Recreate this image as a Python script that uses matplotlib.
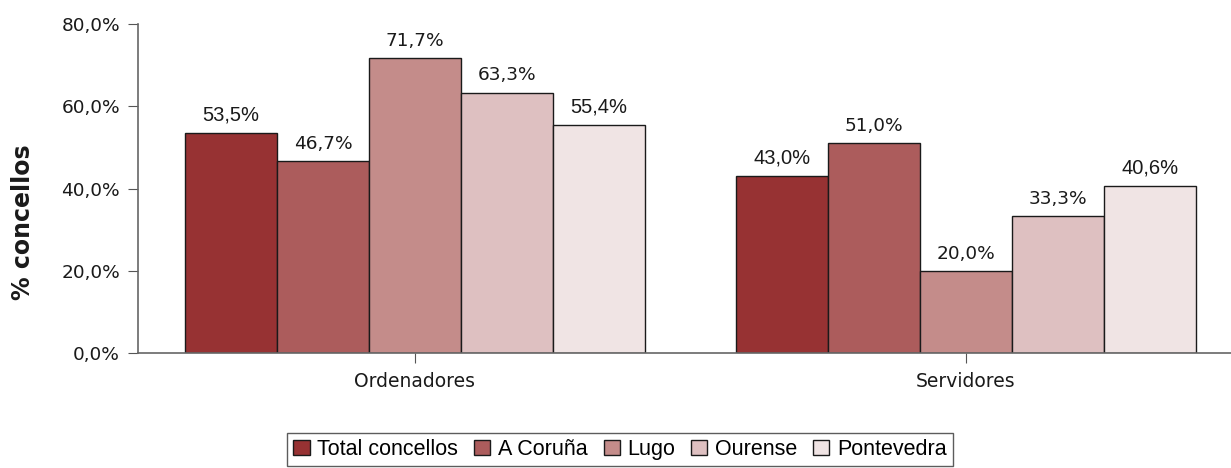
import numpy as np
import matplotlib.pyplot as plt

categorias = ['Ordenadores', 'Servidores']
series = ['Total concellos', 'A Coruña', 'Lugo', 'Ourense', 'Pontevedra']
total = [53.5, 43.0]
coruna = [46.7, 51.0]
lugo = [71.7, 20.0]
ourense = [63.3, 33.3]
pontevedra = [55.4, 40.6]
valores = [total, coruna, lugo, ourense, pontevedra]
cores = ['#973233', '#ac5c5c', '#c48c8a', '#dec0c1', '#f0e4e4']
# some labels in the original are drawn with an Arial-like face
fontes = ['Liberation Sans', 'DejaVu Sans', 'DejaVu Sans', 'DejaVu Sans', 'Liberation Sans']

fig = plt.figure(figsize=(12.31, 4.68), dpi=100)
ax = fig.add_axes([138 / 1231, 1 - 353 / 468, 1 - 138 / 1231, (353 - 24) / 468])

x = np.arange(len(categorias))
w = 0.167
for i, (s, v, c, f) in enumerate(zip(series, valores, cores, fontes)):
    pos = x + (i - 2) * w
    ax.bar(pos, v, w, color=c, edgecolor='#1a1a1a', linewidth=1, label=s)
    for p, val in zip(pos, v):
        ax.text(p, val + 2.0, f'{val:.1f}%'.replace('.', ','), ha='center', va='bottom',
                fontsize=13.3 if f == 'DejaVu Sans' else 14.5, family=f, color='#1a1a1a')

ax.set_xlim(-0.5027, 1.481)
ax.set_ylim(0, 80)
ax.set_yticks([0, 20, 40, 60, 80])
ax.set_yticklabels([f'{t:.1f}%'.replace('.', ',') for t in [0, 20, 40, 60, 80]], fontsize=13.3)
ax.set_xticks(x)
ax.set_xticklabels(categorias, fontsize=13.5)
ax.tick_params(axis='both', direction='out', length=7, color='#555555', labelcolor='#1a1a1a')
ax.tick_params(axis='y', pad=6)
ax.tick_params(axis='x', pad=7)
for s in ['top', 'right']:
    ax.spines[s].set_visible(False)
for s in ['left', 'bottom']:
    ax.spines[s].set_color('#666666')
    ax.spines[s].set_linewidth(1.2)

fig.text(23 / 1231, 1 - 222 / 468, '% concellos', rotation=90, ha='center', va='center',
         fontsize=17, fontweight='bold', color='#1a1a1a')

leg = fig.legend(loc='center', bbox_to_anchor=(620 / 1231, 1 - 449.5 / 468), ncol=5,
                 frameon=True, fancybox=False, edgecolor='#333333',
                 prop={'family': 'Liberation Sans', 'size': 15.5},
                 handlelength=0.75, handleheight=0.75, handletextpad=0.35,
                 columnspacing=0.75, borderpad=0.3, borderaxespad=0)
leg.get_frame().set_linewidth(1)
for h in leg.legend_handles:
    h.set_edgecolor('#1a1a1a')

fig.savefig('out.png', dpi=100)
